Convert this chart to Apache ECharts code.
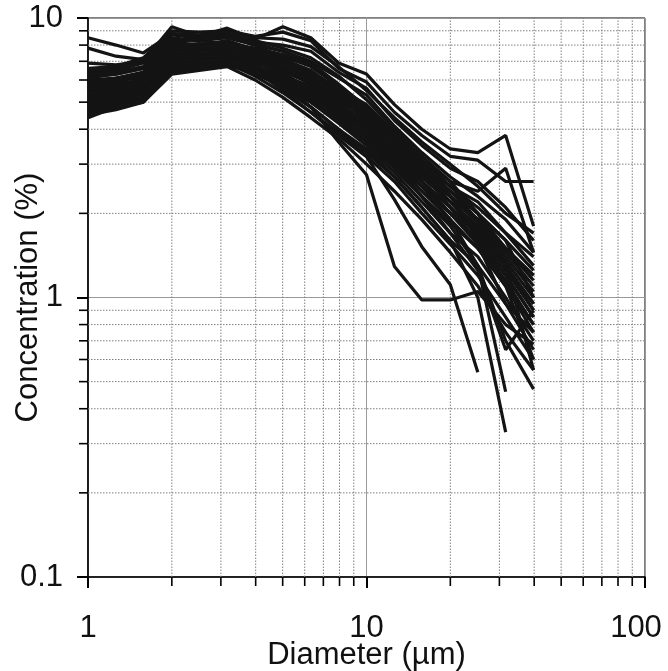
<!DOCTYPE html>
<html>
<head>
<meta charset="utf-8">
<script src="https://cdn.jsdelivr.net/npm/echarts@6/dist/echarts.min.js"></script>
<style>
html,body{margin:0;padding:0;background:#fff;}
#chart{width:668px;height:671px;}
</style>
</head>
<body>
<div id="chart"></div>
<script>
// Diameter categories (µm), log-spaced bins
const diameters = [1, 1.26, 1.58, 2, 2.51, 3.16, 3.98, 5.01, 6.31, 7.94, 10, 12.6, 15.8, 20, 25.1, 31.6, 39.8];

// Axis tick values
const xMajorTicks = [1, 10, 100];
const yMajorTicks = [0.1, 1, 10];
const xMinorTicks = [2, 3, 4, 5, 6, 7, 8, 9, 20, 30, 40, 50, 60, 70, 80, 90];
const yMinorTicks = [0.2, 0.3, 0.4, 0.5, 0.6, 0.7, 0.8, 0.9, 2, 3, 4, 5, 6, 7, 8, 9];

// Concentration (%) per sample
const s01 = [8.5, 8.0, 7.5, 8.8, 8.4, 8.6, 8.0, 7.2, 6.4, 5.4, 4.4, 3.5, 2.8, 2.2, 1.7, 1.3, 0.95];
const s02 = [7.8, 7.3, 7.1, 8.2, 8.0, 8.2, 7.7, 7.3, 6.7, 5.7, 4.7, 3.8, 3.0, 2.4, 1.9, 1.5, 1.15];
const s03 = [6.9, 6.8, 7.0, 9.3, 8.6, 9.2, 8.4, 9.3, 8.5, 6.9, 6.3, 4.9, 4.0, 3.4, 3.3, 3.8, 1.8];
const s04 = [6.6, 6.7, 7.2, 9.0, 8.9, 9.0, 8.6, 8.9, 8.3, 6.6, 5.9, 4.6, 3.8, 3.2, 3.1, 2.6, 2.6];
const s05 = [6.4, 6.5, 6.9, 8.7, 8.5, 8.8, 8.2, 8.0, 7.6, 6.4, 5.6, 4.3, 3.5, 2.9, 2.6, 2.1, 1.6];
const s06 = [6.2, 6.3, 6.6, 8.4, 8.3, 8.5, 8.0, 7.6, 7.0, 6.1, 5.3, 4.1, 3.3, 2.7, 2.3, 1.9, 1.45];
const s07 = [6.0, 6.1, 6.4, 8.1, 8.0, 8.3, 7.7, 7.1, 6.4, 5.6, 4.9, 3.9, 3.1, 2.5, 2.1, 1.7, 1.3];
const s08 = [5.9, 6.1, 6.3, 8.0, 8.1, 8.0, 7.5, 6.9, 6.0, 5.2, 4.6, 3.6, 2.9, 2.3, 1.9, 1.5, 1.2];
const s09 = [5.8, 6.0, 6.1, 7.7, 7.9, 8.1, 7.8, 7.4, 6.8, 5.7, 4.5, 3.4, 2.7, 2.2, 1.8, 1.35, 1.0];
const s10 = [5.7, 5.8, 6.0, 7.5, 7.6, 7.8, 7.2, 6.5, 5.8, 5.0, 4.2, 3.3, 2.6, 2.1, 1.7, 1.3, 0.9];
const s11 = [5.6, 5.7, 6.0, 7.9, 7.7, 7.6, 7.0, 6.2, 5.4, 4.6, 3.9, 3.1, 2.5, 2.0, 1.6, 1.2, 0.85];
const s12 = [5.5, 5.7, 5.9, 7.3, 7.5, 7.7, 7.3, 6.8, 6.1, 5.3, 4.4, 3.5, 2.8, 2.4, 2.0, 1.6, 1.25];
const s13 = [5.5, 5.6, 5.8, 7.2, 7.2, 7.4, 6.8, 6.0, 5.1, 4.3, 3.6, 2.9, 2.3, 1.85, 1.5, 1.1, 0.75];
const s14 = [5.4, 5.6, 5.8, 7.6, 7.8, 7.9, 7.6, 7.1, 6.5, 5.5, 4.8, 3.8, 3.0, 2.5, 2.2, 1.7, 1.4];
const s15 = [5.3, 5.5, 5.7, 7.0, 7.3, 7.5, 7.0, 6.3, 5.6, 4.8, 4.0, 3.2, 2.6, 2.0, 1.55, 1.15, 0.8];
const s16 = [5.3, 5.4, 5.6, 6.9, 7.1, 7.3, 6.9, 6.6, 6.0, 5.2, 4.3, 3.4, 2.7, 2.2, 1.75, 1.3, 0.95];
const s17 = [5.2, 5.4, 5.5, 7.4, 7.4, 7.2, 6.6, 5.8, 5.0, 4.2, 3.5, 2.8, 2.2, 1.7, 1.4, 1.0, 0.7];
const s18 = [5.1, 5.3, 5.5, 6.8, 7.0, 7.1, 6.7, 6.2, 5.7, 4.9, 4.1, 3.3, 2.7, 2.3, 1.9, 1.45, 1.1];
const s19 = [5.0, 5.2, 5.4, 7.1, 7.3, 7.4, 7.1, 6.7, 6.2, 5.4, 4.6, 3.6, 2.9, 2.4, 2.0, 1.5, 1.2];
const s20 = [5.0, 5.1, 5.3, 6.7, 6.9, 7.0, 6.4, 5.6, 4.8, 4.0, 3.3, 2.7, 2.1, 1.6, 1.3, 0.95, 0.65];
const s21 = [4.9, 5.1, 5.3, 6.6, 6.8, 7.0, 6.6, 6.1, 5.5, 4.7, 4.0, 3.2, 2.6, 2.1, 1.65, 1.25, 0.9];
const s22 = [4.8, 5.0, 5.2, 6.5, 6.7, 6.9, 6.2, 5.4, 4.6, 3.9, 3.2, 2.6, 2.0, 1.55, 1.2, 0.85, 0.6];
const s23 = [4.7, 4.9, 5.1, 6.6, 6.9, 7.2, 6.9, 6.4, 5.9, 5.1, 4.4, 3.5, 2.8, 2.3, 1.85, 1.4, 1.05];
const s24 = [4.6, 4.8, 5.0, 6.4, 6.6, 6.8, 6.3, 5.7, 5.0, 4.3, 3.7, 3.0, 2.4, 1.9, 1.5, 1.1, 0.8];
const s25 = [4.5, 4.7, 5.0, 6.3, 6.5, 6.7, 6.0, 5.2, 4.4, 3.7, 3.0, 2.4, 1.9, 1.45, 1.1, 0.75, 0.55];
const s26 = [4.4, 4.8, 5.1, 6.7, 7.0, 7.2, 6.7, 6.0, 5.3, 4.5, 3.8, 3.0, 2.5, 2.0, 1.6, 1.2, 0.85];
const s27 = [5.9, 6.0, 6.2, 7.6, 7.5, 7.6, 6.8, 5.9, 4.8, 3.6, 2.75, 1.29, 0.98, 0.98, 1.05, 0.8, 0.68];
const s28 = [5.6, 5.8, 6.0, 7.4, 7.3, 7.3, 6.5, 5.5, 4.6, 3.8, 3.19, 2.24, 1.52, 1.11, 0.54];
const s29 = [5.2, 5.3, 5.6, 7.0, 7.1, 7.0, 6.4, 5.6, 4.8, 4.0, 3.4, 2.7, 2.1, 1.6, 1.0, 0.33];
const s30 = [5.8, 5.9, 6.2, 7.8, 7.9, 8.0, 7.4, 6.7, 5.9, 5.0, 4.1, 3.2, 2.5, 1.9, 1.3, 0.46];
const s31 = [6.1, 6.3, 6.6, 8.3, 8.5, 8.7, 8.3, 7.8, 7.2, 6.2, 5.1, 4.0, 3.2, 2.6, 2.0, 1.3, 0.55];
const s32 = [5.4, 5.5, 5.7, 7.1, 7.0, 7.1, 6.5, 5.8, 5.2, 4.4, 3.7, 2.9, 2.3, 1.8, 1.3, 0.7, 0.47];
const s33 = [6.3, 6.4, 6.7, 8.5, 8.3, 8.1, 7.4, 6.7, 5.9, 5.1, 4.5, 3.7, 3.0, 2.5, 2.0, 1.6, 1.0];
const s34 = [5.0, 5.3, 5.7, 7.3, 7.6, 7.7, 7.4, 7.0, 6.3, 5.6, 4.7, 3.7, 3.0, 2.3, 1.7, 1.1, 0.6];
const s35 = [4.6, 4.9, 5.3, 6.9, 7.2, 7.5, 7.2, 6.8, 6.2, 5.3, 4.5, 3.6, 2.8, 2.1, 1.55, 0.95, 0.75];
const s36 = [6.5, 6.6, 7.0, 8.8, 8.7, 8.9, 8.5, 8.4, 7.9, 6.7, 5.5, 4.4, 3.6, 3.0, 2.5, 2.0, 1.7];
const s37 = [5.7, 5.9, 6.3, 8.2, 8.4, 8.5, 8.1, 7.6, 6.9, 5.8, 4.8, 3.8, 3.1, 2.6, 2.4, 2.9, 1.45];
const s38 = [5.3, 5.6, 5.9, 7.6, 7.5, 7.6, 7.0, 6.3, 5.6, 4.7, 3.9, 3.0, 2.3, 1.7, 1.25, 0.65, 0.9];

const samples = [s01, s02, s03, s04, s05, s06, s07, s08, s09, s10, s11, s12, s13, s14, s15, s16, s17, s18, s19,
  s20, s21, s22, s23, s24, s25, s26, s27, s28, s29, s30, s31, s32, s33, s34, s35, s36, s37, s38];

const X_MIN = 1, X_MAX = 100, Y_MIN = 0.1, Y_MAX = 10;
const FONT = '"Liberation Sans", Arial, Helvetica, sans-serif';

const chart = echarts.init(document.getElementById('chart'), null, { renderer: 'canvas' });

const lineSeries = samples.map((ys, i) => ({
  type: 'line',
  name: 'S' + (i + 1),
  data: ys.map((y, j) => [diameters[j], y]),
  showSymbol: false,
  symbol: 'none',
  silent: true,
  z: 5,
  lineStyle: { color: '#141414', width: 3.2 },
  emphasis: { disabled: true }
}));

const xMinorSeries = {
  type: 'custom',
  silent: true,
  clip: false,
  z: 1,
  data: xMinorTicks.map(v => [v, 1]),
  renderItem: function (params, api) {
    const v = api.value(0);
    const p0 = api.coord([v, Y_MIN]);
    const p1 = api.coord([v, Y_MAX]);
    return {
      type: 'group',
      children: [
        { type: 'line', shape: { x1: p0[0], y1: p0[1], x2: p1[0], y2: p1[1] },
          style: { stroke: '#808080', lineWidth: 1, lineDash: [1.5, 1.5] } },
        { type: 'line', shape: { x1: p0[0], y1: p0[1], x2: p0[0], y2: p0[1] + 9 },
          style: { stroke: '#000', lineWidth: 1.6 } }
      ]
    };
  }
};

const yMinorSeries = {
  type: 'custom',
  silent: true,
  clip: false,
  z: 1,
  data: yMinorTicks.map(v => [1, v]),
  renderItem: function (params, api) {
    const v = api.value(1);
    const p0 = api.coord([X_MIN, v]);
    const p1 = api.coord([X_MAX, v]);
    return {
      type: 'group',
      children: [
        { type: 'line', shape: { x1: p0[0], y1: p0[1], x2: p1[0], y2: p1[1] },
          style: { stroke: '#808080', lineWidth: 1, lineDash: [1.5, 1.5] } },
        { type: 'line', shape: { x1: p0[0], y1: p0[1], x2: p0[0] - 9, y2: p0[1] },
          style: { stroke: '#000', lineWidth: 1.6 } }
      ]
    };
  }
};

chart.setOption({
  animation: false,
  backgroundColor: '#fff',
  grid: { left: 88, right: 23, top: 18, bottom: 94, containLabel: false, outerBoundsMode: 'none',
    show: true, borderColor: '#000', borderWidth: 1, backgroundColor: 'transparent' },
  xAxis: {
    type: 'log', logBase: 10, min: X_MIN, max: X_MAX,
    name: 'Diameter (µm)', nameLocation: 'middle', nameGap: 63, nameMoveOverlap: false,
    nameTextStyle: { fontSize: 31, color: '#111', fontFamily: FONT },
    axisLine: { show: true, lineStyle: { color: '#000', width: 1.6 } },
    axisTick: { show: true, inside: false, length: 11, lineStyle: { color: '#000', width: 2 } },
    axisLabel: { show: true, margin: 36, fontSize: 31, color: '#111', fontFamily: FONT,
      formatter: v => {
        if (xMajorTicks.indexOf(v) < 0) return '';
        return v === X_MAX ? '{edge|' + v + '}' : String(v);
      },
      rich: { edge: { fontSize: 31, color: '#111', fontFamily: FONT, padding: [0, 18, 0, 0] } } },
    splitLine: { show: true, lineStyle: { color: '#999', width: 1 } },
    minorTick: { show: false },
    minorSplitLine: { show: false }
  },
  yAxis: {
    type: 'log', logBase: 10, min: Y_MIN, max: Y_MAX,
    name: 'Concentration (%)', nameLocation: 'middle', nameGap: 44, nameMoveOverlap: false,
    nameTextStyle: { fontSize: 31, color: '#111', fontFamily: FONT },
    axisLine: { show: true, lineStyle: { color: '#000', width: 1.6 } },
    axisTick: { show: true, inside: false, length: 11, lineStyle: { color: '#000', width: 2 } },
    axisLabel: { show: true, margin: 25, fontSize: 31, color: '#111', fontFamily: FONT,
      formatter: v => { const m = yMajorTicks.find(t => Math.abs(t - v) < 1e-9); return m === undefined ? '' : String(m); } },
    splitLine: { show: true, lineStyle: { color: '#999', width: 1 } },
    minorTick: { show: false },
    minorSplitLine: { show: false }
  },
  series: [xMinorSeries, yMinorSeries].concat(lineSeries)
});
</script>
</body>
</html>
